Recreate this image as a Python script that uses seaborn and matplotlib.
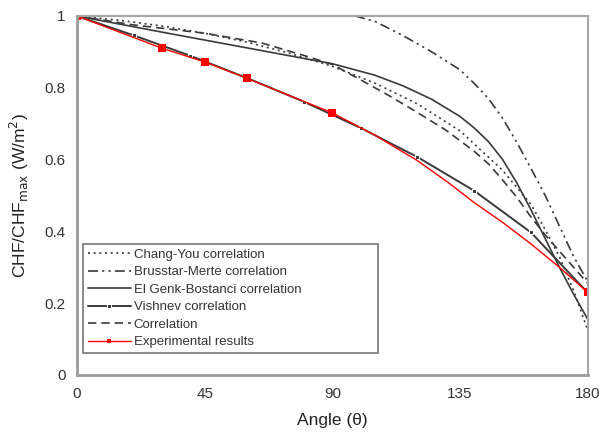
import pandas as pd
import matplotlib
matplotlib.use("Agg")
import matplotlib.pyplot as plt
import seaborn as sns

# values
chang_ang = [0, 15, 30, 45, 60, 75, 90, 105, 120, 135, 150, 160, 165, 170, 175, 180]
chang_val = [1.0, 0.988, 0.972, 0.952, 0.927, 0.896, 0.86, 0.813, 0.755, 0.68, 0.57, 0.475, 0.405, 0.33, 0.235, 0.125]

brus_ang = [98, 105, 115, 125, 135, 140, 145, 150, 155, 160, 165, 170, 175, 180]
brus_val = [1.0, 0.985, 0.945, 0.9, 0.85, 0.812, 0.77, 0.715, 0.648, 0.575, 0.50, 0.415, 0.33, 0.26]

genk_ang = [0, 30, 60, 90, 105, 115, 125, 135, 140, 145, 150, 155, 160, 165, 170, 175, 180]
genk_val = [1.0, 0.955, 0.911, 0.867, 0.835, 0.805, 0.768, 0.72, 0.688, 0.65, 0.60, 0.535, 0.46, 0.38, 0.30, 0.225, 0.155]

vish_ang = [0, 20, 40, 60, 80, 100, 120, 140, 160, 180]
vish_val = [1.0, 0.946, 0.889, 0.827, 0.761, 0.688, 0.607, 0.513, 0.397, 0.229]

corr_ang = [0, 20, 45, 65, 80, 90, 100, 110, 120, 130, 140, 145, 150, 155, 160, 165, 170, 175, 180]
corr_val = [1.0, 0.975, 0.952, 0.925, 0.89, 0.865, 0.822, 0.778, 0.731, 0.682, 0.623, 0.588, 0.543, 0.495, 0.44, 0.39, 0.345, 0.30, 0.255]

exp_ang = [0, 30, 45, 60, 90, 105, 120, 131, 140, 150, 160, 170, 180]
exp_val = [1.0, 0.91, 0.872, 0.826, 0.73, 0.668, 0.597, 0.535, 0.48, 0.425, 0.365, 0.30, 0.23]
exp_marked = [0, 1, 2, 3, 4, 12]

sns.set_style("white")
plt.rcParams["font.family"] = ["Liberation Sans", "DejaVu Sans"]

fig = plt.figure(figsize=(6.01, 4.32), dpi=100)
ax = fig.add_axes([0.128, 0.132, 0.850, 0.831])

gray = "#3a3a3a"
sns.lineplot(x=chang_ang, y=chang_val, ax=ax, color=gray, lw=1.2,
             linestyle=(0, (1.2, 2.2)), label="Chang-You correlation")
sns.lineplot(x=brus_ang, y=brus_val, ax=ax, color=gray, lw=1.2,
             linestyle=(0, (6, 2.5, 1.3, 2.5, 1.3, 2.5)), label="Brusstar-Merte correlation")
sns.lineplot(x=genk_ang, y=genk_val, ax=ax, color=gray, lw=1.2,
             label="El Genk-Bostanci correlation")
sns.lineplot(x=vish_ang, y=vish_val, ax=ax, color=gray, lw=1.4, marker="s",
             markersize=2.5, label="Vishnev correlation")
sns.lineplot(x=corr_ang, y=corr_val, ax=ax, color=gray, lw=1.2,
             linestyle=(0, (5, 3)), label="Correlation")
sns.lineplot(x=exp_ang, y=exp_val, ax=ax, color="red", lw=1.0, marker="s",
             markersize=6, markeredgewidth=0, markevery=exp_marked,
             label="Experimental results")

ax.set_xlim(0, 180)
ax.set_ylim(0, 1)
ax.set_xticks([0, 45, 90, 135, 180])
ax.set_xticks([22.5, 67.5, 112.5, 157.5], minor=True)
ax.set_yticks([0, 0.2, 0.4, 0.6, 0.8, 1])
ax.set_yticklabels(["0", "0.2", "0.4", "0.6", "0.8", "1"])
ax.tick_params(axis="both", which="both", direction="out", length=3, width=1,
               color="#555555", labelsize=11, labelcolor="#333333", pad=5)
ax.tick_params(axis="x", which="minor", length=2)
ax.tick_params(axis="x", pad=6)

for side in ["left", "bottom"]:
    ax.spines[side].set_color("#9a9a9a")
    ax.spines[side].set_linewidth(2)
for side in ["top", "right"]:
    ax.spines[side].set_color("#a5a5a5")
    ax.spines[side].set_linewidth(1.5)

ax.set_xlabel("Angle (\u03b8)", fontsize=12.5, color="#222222", labelpad=8)
ax.set_ylabel("CHF/CHF$_{\\mathrm{max}}$ (W/m$^2$)", fontsize=12.5, color="#222222", labelpad=10)

leg = ax.legend(loc="lower left", bbox_to_anchor=(0.012, 0.061, 0.577, 0.3),
                mode="expand", borderaxespad=0, fontsize=9.5,
                handlelength=3.3, handletextpad=0.2, labelspacing=0.4,
                borderpad=0.35, fancybox=False, framealpha=1, edgecolor="#777777")
leg.get_frame().set_linewidth(1.2)
leg.legend_handles[5].set_markersize(3)
for t in leg.get_texts():
    t.set_color("#333333")

fig.savefig("out.png", dpi=100)
